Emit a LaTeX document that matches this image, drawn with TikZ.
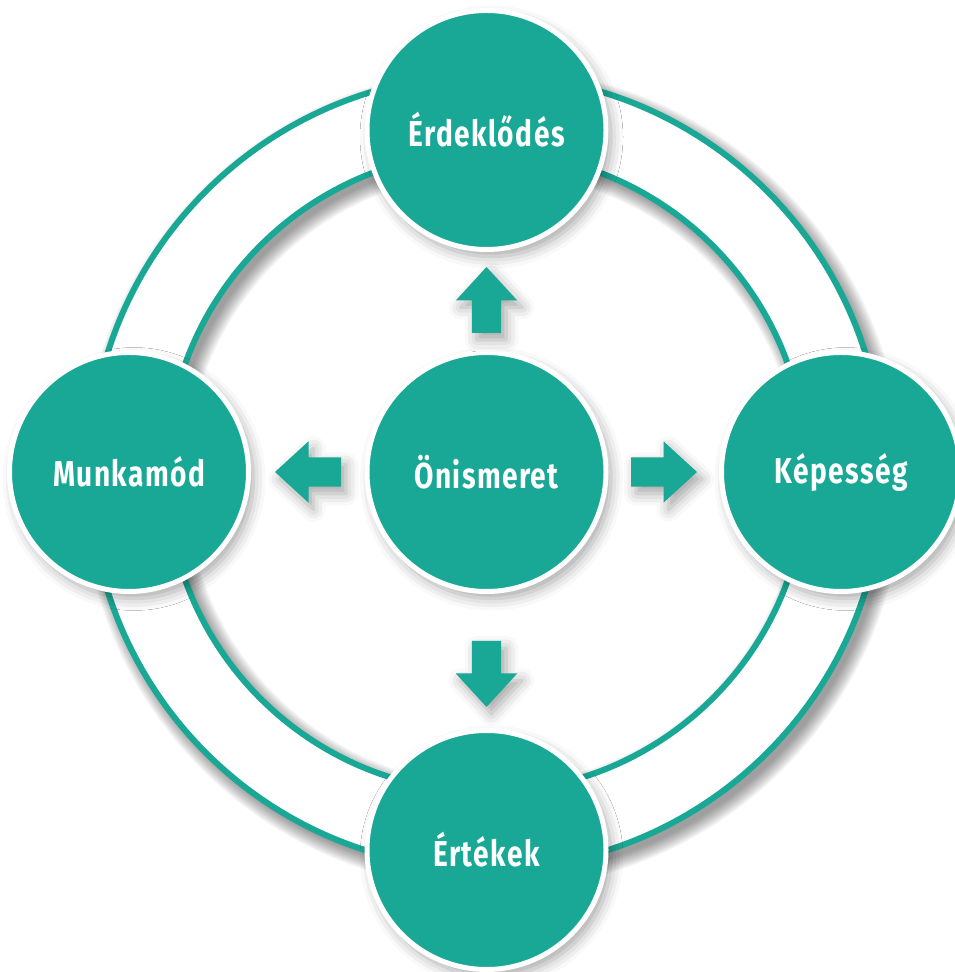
\documentclass[tikz,border=0pt]{standalone}
\usepackage{fontspec}
\newfontfamily\bubblefont{Fira Sans}[FakeStretch=0.78,LetterSpace=4]
\usetikzlibrary{positioning}
\usetikzlibrary{shapes.arrows}
\usetikzlibrary{shadows.blur}
\definecolor{tealgreen}{RGB}{24,168,149}

\begin{document}
\begin{tikzpicture}[
    x=1pt, y=1pt,
    softshadow/.style={blur shadow={shadow xshift=5pt, shadow yshift=-7pt, shadow blur radius=12pt, shadow opacity=35}},
    bubble/.style={circle, fill=tealgreen, draw=white, line width=5pt, minimum size=239pt, inner sep=0pt,
      text=white, font=\bubblefont\bfseries\fontsize{36}{42}\selectfont, softshadow},
    blockarrow/.style={single arrow, fill=tealgreen, minimum height=66pt, minimum width=61pt,
      single arrow head extend=16pt, single arrow head indent=0pt, single arrow tip angle=85,
      inner sep=14.5pt, outer sep=0pt, anchor=tail, softshadow},
    ring/.style={draw=tealgreen, line width=6pt},
  ]
  \useasboundingbox (0,0) rectangle (955,972);
  \coordinate (hub) at (486.5,500);

  % white band with its shadow, then the two rings
  \foreach \k in {0,...,14}
    \draw[black, opacity=0.03, line width={77pt+2pt*\k}] ([shift={(6pt,-7pt)}]hub) circle (358.5pt);
  \draw[white, line width=77pt] (hub) circle (358.5pt);
  \draw[ring] (hub) circle (320pt);
  \draw[ring] (hub) circle (397pt);

  \node (self) [bubble] at (hub) {Önismeret};
  \node (interest) [bubble, above=98pt of self] {Érdeklődés};
  \node (workstyle) [bubble, left=113.5pt of self] {Munkamód};
  \node (ability) [bubble, right=110.5pt of self] {Képesség};
  \node (values) [bubble, below=134pt of self] {Értékek};

  \node (toup) [blockarrow, shape border rotate=90] at ([yshift=139pt]self.center) {};
  \node (toleft) [blockarrow, shape border rotate=180] at ([xshift=-145.5pt]self.center) {};
  \node (toright) [blockarrow] at ([xshift=144.5pt]self.center) {};
  \node (todown) [blockarrow, shape border rotate=270] at ([yshift=-169pt]self.center) {};
\end{tikzpicture}
\end{document}
